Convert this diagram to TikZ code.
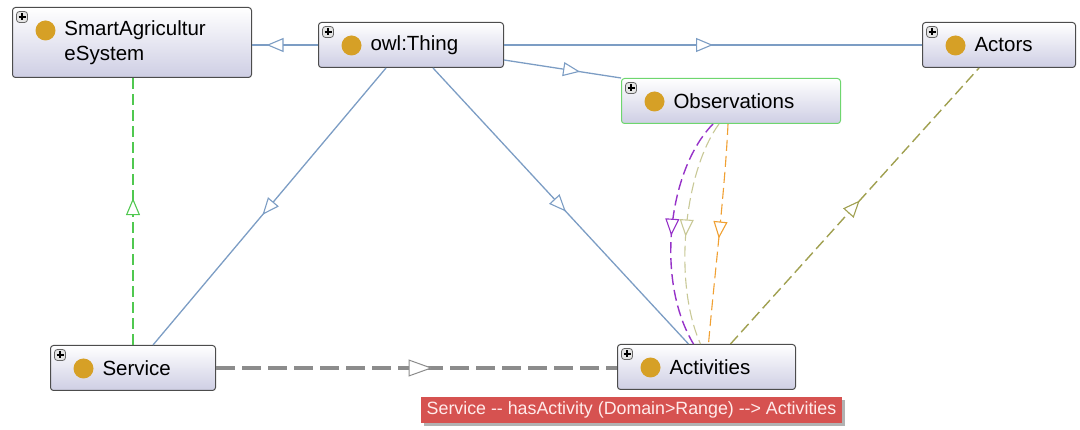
\documentclass[tikz,border=0pt]{standalone}
\usepackage{fontspec}
\setmainfont{Liberation Sans}
\usetikzlibrary{arrows.meta, positioning, decorations.markings, shadows}
\usepackage{xcolor}

\definecolor{edgeblue}{RGB}{124,157,196}
\definecolor{clsbottom}{RGB}{206,206,228}
\definecolor{bulb}{RGB}{214,160,38}
\definecolor{obsgreen}{RGB}{110,214,110}
\definecolor{linkgreen}{RGB}{80,200,80}
\definecolor{propviolet}{RGB}{150,50,200}
\definecolor{proptan}{RGB}{200,200,150}
\definecolor{proporange}{RGB}{240,160,50}
\definecolor{propolive}{RGB}{160,160,80}
\definecolor{hintred}{RGB}{214,82,80}

\begin{document}
\begin{tikzpicture}[
    x=1pt, y=-1pt,
    cls/.style={rectangle, rounded corners=3pt, draw=black!70, line width=1pt,
        top color=white, bottom color=clsbottom, text width=#1, inner xsep=0pt,
        inner ysep=0pt, minimum height=45pt, align=left, anchor=north west,
        font=\fontsize{20.5}{25}\selectfont, execute at begin node={\leftskip=52pt},
        path picture={
            \draw[black!60, fill=black!10, line width=0.8pt]
                ([shift={(4pt,-4pt)}]path picture bounding box.north west) rectangle ++(11pt,-11pt);
            \draw[black, line width=1.4pt]
                ([shift={(6pt,-9.5pt)}]path picture bounding box.north west) -- ++(7pt,0pt)
                ([shift={(9.5pt,-6pt)}]path picture bounding box.north west) -- ++(0pt,-7pt);
            \fill[bulb] ([shift={(33pt,-23pt)}]path picture bounding box.north west) circle (10pt);
        }},
    midarrow/.style={postaction={decorate}, decoration={markings,
        mark=at position #1 with {\arrow{Triangle[fill=white, length=17pt, width=14pt, line width=1.1pt]}}}},
    isa/.style={draw=edgeblue, line width=1.3pt},
    prop/.style={line width=1.4pt, dash pattern=on 11pt off 5pt},
    hint/.style={rectangle, fill=hintred, text=white!92!red, inner xsep=6pt,
        minimum height=26pt, font=\fontsize{17.8}{20}\selectfont,
        drop shadow={shadow xshift=3pt, shadow yshift=-3pt, fill=black!30, opacity=1}}
]
\useasboundingbox (0,0) rectangle (1080,430);

% 类节点
\node[cls=239, minimum height=70pt] (smart) at (12,7) {SmartAgricultur\\eSystem};
\node[cls=185] (thing) at (318,22) {owl:Thing};
\node[cls=153] (actors) at (922,22) {Actors};
\node[cls=219, draw=obsgreen] (obs) at (621,78) {Observations};
\node[cls=165] (service) at (50,345) {Service};
\node[cls=178] (act) at (617,344) {Activities};

% 子类关系
\draw[isa, midarrow=0.78] (thing.west) -- (thing.west -| smart.east);
\draw[isa, midarrow=0.5] (thing.east) -- (actors.west);
\draw[isa, midarrow=0.65] ([yshift=-15pt]thing.east) -- (obs.north west);
\draw[isa, midarrow=0.53] ([xshift=-25pt]thing.south) -- ([xshift=20pt]service.north);
\draw[isa, midarrow=0.52] ([xshift=22pt]thing.south) -- ([xshift=-18pt]act.north);

% 属性连线
\draw[prop, draw=linkgreen, midarrow=0.55] (service.north) -- (service.north |- smart.south);
\draw[prop, draw=propolive, midarrow=0.52] ([xshift=24pt]act.north) -- ([xshift=-20pt]actors.south);
\draw[prop, draw=propviolet, midarrow=0.52] ([xshift=-18pt]obs.south)
    .. controls (668,170) and (655,280) .. ([xshift=-13pt]act.north);
\draw[prop, draw=proptan, line width=1.1pt, midarrow=0.52] ([xshift=-12pt]obs.south)
    .. controls (685,170) and (672,280) .. ([xshift=-6pt]act.north);
\draw[prop, draw=proporange, line width=1.1pt, midarrow=0.52] ([xshift=-3pt]obs.south)
    .. controls (725,190) and (714,280) .. ([xshift=2pt]act.north);
\draw[line width=3.5pt, draw=black!45, dash pattern=on 19pt off 7pt,
    postaction={decorate}, decoration={markings, mark=at position 0.54 with
    {\arrow{Triangle[fill=white, length=24pt, width=17pt, line width=1pt]}}}]
    (service.east) -- (service.east -| act.west);

% 提示框
\node[hint] (tip) at (631.5,410) {Service -{}- hasActivity (Domain>Range) -{}-> Activities};

\end{tikzpicture}
\end{document}
